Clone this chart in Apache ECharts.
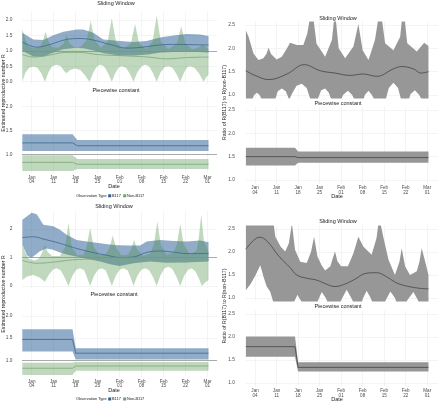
<!DOCTYPE html>
<html><head><meta charset="utf-8">
<script src="https://cdn.jsdelivr.net/npm/echarts@6/dist/echarts.min.js"></script>
<style>html,body{margin:0;padding:0;background:#fff}#c{width:440px;height:403px}</style>
</head><body><div id="c"></div>
<script>
// ---------- axis ticks (day 0 = Jan 01) ----------
const tickDays = [3, 10, 17, 24, 31, 38, 45, 52, 59];
const tickLabels = ['Jan\n04','Jan\n11','Jan\n18','Jan\n25','Feb\n01','Feb\n08','Feb\n15','Feb\n22','Mar\n01'];

// ---------- Top-left: sliding window (B117 / Non-B117) ----------
const tlBlueUp = [[0,1.59],[3.5,1.37],[6.7,1.35],[9.9,1.51],[13.1,1.62],[17.3,1.69],[19.4,1.69],[22.6,1.59],[25.8,1.37],[31.1,1.32],[35.4,1.29],[39.6,1.32],[43.9,1.43],[48.1,1.50],[52.4,1.55],[56.6,1.53],[59.3,1.48]];
const tlBlueLo = [[0,1.00],[3.5,0.82],[6.7,0.82],[10,0.95],[13,1.05],[17.3,1.10],[20,1.08],[23,1.00],[26,0.92],[31,0.85],[35.4,0.85],[40,0.88],[44,0.95],[48,0.96],[52,0.97],[56,0.96],[59.3,0.95]];
const tlBlueMid = [[0,1.29],[4.6,1.12],[8.9,1.21],[14.1,1.37],[18.4,1.40],[22.6,1.35],[27.9,1.21],[33.3,1.09],[37.5,1.11],[42.8,1.18],[48.1,1.21],[54.5,1.20],[59.3,1.19]];
const tlGreenUp = [[0,1.70],[1,1.35],[2,1.15],[3.5,1.08],[5.5,1.12],[6.5,1.30],[7.4,1.62],[8.3,1.30],[9.5,1.12],[11.5,1.10],[13.2,1.25],[14.1,1.53],[15,1.25],[16.5,1.12],[18.5,1.12],[20.5,1.35],[21.8,1.98],[23,1.35],[25,1.10],[27.2,1.30],[28.5,2.06],[29.8,1.30],[32,1.05],[34.6,1.25],[35.9,1.87],[37.2,1.25],[39.5,1.05],[41.5,1.30],[42.8,2.15],[44.1,1.30],[46.5,1.05],[49.3,1.25],[50.6,1.80],[51.9,1.25],[54,1.05],[56,1.10],[57.5,1.20],[59.3,1.05]];
const tlGreenLo = [[0,0.0],[1,0.3],[2.2,0.45],[3.5,0.49],[4.8,0.45],[6,0.28],[7.2,0.0],[8.3,0.3],[9.5,0.5],[10.9,0.55],[12.3,0.5],[13.3,0.35],[14.1,0.27],[15.2,0.38],[16.8,0.43],[18.5,0.38],[20,0.2],[21.4,0.0],[22.6,0.3],[23.8,0.5],[24.8,0.55],[26,0.5],[27.3,0.28],[28.5,0.0],[29.7,0.3],[30.8,0.47],[31.7,0.5],[33,0.45],[34.3,0.25],[35.4,0.0],[36.6,0.3],[38,0.5],[39.1,0.55],[40.3,0.5],[41.6,0.28],[42.8,0.0],[44,0.3],[45.3,0.47],[46.5,0.5],[47.8,0.45],[49.1,0.25],[50.3,0.0],[51.5,0.3],[52.5,0.47],[53.5,0.5],[54.8,0.45],[56.4,0.25],[57.7,0.0],[58.6,0.15],[59.3,0.22]];
const tlGreenMid = [[0,0.88],[3.5,0.80],[8,0.85],[14,0.95],[18,0.95],[24,0.88],[32,0.84],[40,0.80],[46,0.74],[52,0.78],[59.3,0.80]];

// ---------- Top-left: piecewise constant ----------
const tlPwBlueUp = [[0,1.42],[16,1.42],[17.5,1.30],[59.3,1.30]];
const tlPwBlueLo = [[0,1.07],[16,1.07],[17.5,1.07],[59.3,1.07]];
const tlPwBlueMid = [[0,1.24],[16,1.24],[17.5,1.18],[59.3,1.18]];
const tlPwGreenUp = [[0,0.98],[16,0.98],[17.5,0.90],[59.3,0.90]];
const tlPwGreenLo = [[0,0.65],[16,0.65],[17.5,0.69],[59.3,0.69]];
const tlPwGreenMid = [[0,0.83],[16,0.83],[17.5,0.79],[59.3,0.79]];

// ---------- Top-right: ratio, sliding window ----------
const trUp = [[0,2.39],[0.9,2.25],[2.5,1.89],[4.1,1.75],[5.7,1.79],[6.7,1.88],[7.4,2.01],[8.2,1.88],[10,1.76],[11.7,1.82],[13.4,2.00],[14.4,2.12],[16.6,2.07],[18.7,2.07],[20,2.32],[21.5,2.9],[23,2.1],[25.8,1.82],[28,2.18],[29,2.8],[30.2,2.0],[32.3,1.79],[35,2.04],[36.6,2.52],[38,1.96],[39.9,1.75],[42,2.18],[43.7,2.9],[45.3,2.11],[48,1.96],[50.2,2.25],[51.2,2.9],[52.5,2.11],[55.6,1.93],[58,2.12],[59.4,2.05]];
const trLo = [[0,0.75],[1.8,0.85],[2.7,1.0],[3.6,1.05],[4.5,1.0],[5.5,0.85],[7.4,0.6],[9.3,0.85],[10.4,1.08],[11.7,1.14],[13,1.08],[14.1,0.90],[15.2,1.05],[16.5,1.2],[18.2,1.24],[19.8,1.15],[20.9,0.93],[21.5,0.6],[22.5,0.6],[23.5,0.93],[24.5,1.1],[25.8,1.14],[27,1.05],[27.8,0.9],[29,0.6],[30.5,0.8],[31.6,1.0],[33.2,1.09],[34.6,1.0],[35.3,0.9],[36.6,0.6],[38,0.85],[38.7,1.0],[39.9,1.09],[41,1.0],[41.8,0.9],[43.7,0.6],[45.5,0.9],[46.5,1.15],[48,1.26],[49.5,1.15],[50.5,0.9],[51.2,0.6],[52.5,0.8],[53.6,1.02],[55,1.10],[56.4,1.0],[57.2,0.9],[58.5,0.75],[59.4,0.8]];
const trMid = [[0,1.52],[3,1.42],[7.5,1.33],[13.4,1.45],[19,1.65],[24.2,1.52],[29,1.47],[33.9,1.42],[38.2,1.45],[42.6,1.40],[48,1.56],[50.7,1.61],[54.5,1.56],[57,1.47],[59.4,1.50]];

// ---------- Top-right: ratio, piecewise ----------
const trPwUp = [[0,1.69],[16,1.69],[17,1.61],[59.4,1.61]];
const trPwLo = [[0,1.31],[16,1.31],[17,1.37],[59.4,1.37]];
const trPwMid = [[0,1.50],[16,1.50],[17,1.48],[59.4,1.48]];

// ---------- Bottom-left: sliding window ----------
const blBlueUp = [[0,2.33],[3,2.57],[4.6,2.52],[6.7,2.15],[9.9,2.10],[12,1.98],[14.1,1.80],[17.3,1.62],[20.5,1.56],[24.8,1.50],[29,1.44],[33.3,1.42],[37.5,1.42],[39.6,1.56],[43.9,1.62],[48.1,1.58],[52.4,1.56],[56.6,1.60],[59.3,1.54]];
const blBlueLo = [[0,1.45],[1.5,1.08],[2.8,0.98],[4,1.08],[5.6,1.22],[7.5,1.32],[9.5,1.28],[12,1.18],[14.5,1.10],[19.4,0.98],[24.8,0.86],[28,0.76],[31,0.70],[35.4,0.80],[40.7,0.86],[46,0.82],[52,0.83],[59.3,0.86]];
const blBlueMid = [[0,1.70],[3.5,1.73],[6.7,1.65],[12,1.50],[16.3,1.35],[21.6,1.20],[26.9,1.08],[31.1,1.00],[35.4,1.02],[39.6,1.18],[43.9,1.23],[48.1,1.19],[52.4,1.14],[59.3,1.14]];
const blGreenUp = [[0,1.45],[1,1.15],[2.2,0.95],[4,0.90],[5.5,0.98],[6.4,1.2],[7.2,1.45],[8,1.2],[9.5,1.05],[12,1.05],[13.6,1.35],[14.7,2.21],[15.8,1.35],[17.5,1.08],[19.5,1.10],[20.5,1.4],[21.6,2.04],[22.7,1.4],[24.5,1.08],[26.6,1.12],[27.8,1.35],[28.8,1.77],[29.8,1.35],[31.5,1.08],[33.6,1.10],[34.7,1.30],[35.6,1.62],[36.5,1.3],[38.5,1.05],[40.8,1.15],[41.9,1.45],[43,2.27],[44.1,1.45],[46,1.10],[48.1,1.18],[49.2,1.45],[50.3,2.18],[51.4,1.45],[53.5,1.10],[55.5,1.25],[56.2,1.7],[57,2.51],[57.8,1.6],[59.3,1.2]];
const blGreenLo = [[0,0.21],[1.5,0.33],[3.5,0.39],[5.5,0.30],[7.2,0.15],[8.5,0.40],[9.8,0.58],[10.9,0.62],[12.2,0.55],[13.5,0.30],[14.7,0.0],[15.9,0.35],[17.2,0.57],[18.4,0.62],[19.7,0.55],[20.6,0.3],[21.6,0.0],[22.8,0.35],[24.1,0.57],[25.3,0.62],[26.5,0.55],[27.5,0.3],[28.5,0.0],[29.7,0.35],[31,0.57],[32.2,0.62],[33.5,0.55],[34.5,0.3],[35.4,0.0],[36.6,0.35],[37.9,0.57],[39.1,0.62],[40.4,0.55],[41.7,0.3],[42.8,0.0],[44,0.38],[45.3,0.62],[46.5,0.68],[47.8,0.6],[49.2,0.3],[50.3,0.0],[51.5,0.35],[52.8,0.57],[54,0.62],[55.2,0.5],[56.3,0.25],[57.2,0.0],[58.2,0.12],[59.3,0.21]];
const blGreenMid = [[0,0.90],[4.6,0.80],[10,0.84],[16,0.92],[24,0.95],[32,0.94],[40,0.93],[48,0.92],[59.3,0.93]];

// ---------- Bottom-left: piecewise ----------
const blPwBlueUp = [[0,1.70],[16,1.70],[17,1.27],[59.3,1.27]];
const blPwBlueLo = [[0,1.20],[16,1.20],[17,1.02],[59.3,1.02]];
const blPwBlueMid = [[0,1.47],[16,1.47],[17,1.16],[59.3,1.16]];
const blPwGreenUp = [[0,0.945],[16,0.945],[17,0.96],[59.3,0.96]];
const blPwGreenLo = [[0,0.667],[16,0.667],[17,0.765],[59.3,0.765]];
const blPwGreenMid = [[0,0.82],[16,0.82],[17,0.87],[59.3,0.87]];

// ---------- Bottom-right: ratio, sliding window ----------
const brUp = [[0,2.9],[8.5,2.9],[9.6,2.33],[11.3,2.12],[12.8,2.01],[14,2.19],[15,2.62],[16,2.05],[17.7,1.79],[19.8,1.76],[21.2,2.0],[22.2,2.33],[23.3,1.90],[24.6,1.72],[25.8,1.6],[27.5,1.69],[28.2,1.85],[29,2.01],[29.8,1.80],[31,1.69],[33.2,1.69],[35,1.97],[36.6,2.33],[38.2,2.12],[40.9,1.94],[42.5,2.3],[43.4,2.75],[44.7,2.33],[46.4,1.83],[48.5,1.50],[50,1.80],[50.7,2.08],[51.8,1.69],[53.4,1.50],[55.6,1.58],[56.5,1.8],[57.2,2.08],[58.3,1.80],[59.4,1.5]];
const brLo = [[0,1.17],[1.5,1.30],[3.2,1.50],[4.7,1.71],[5.8,1.45],[6.8,1.25],[7.9,1.14],[9,0.9],[11,0.7],[13,0.8],[15,0.6],[15.8,0.93],[16.8,1.07],[17.8,0.95],[19.5,0.8],[22.2,0.6],[23.5,0.95],[24.7,1.13],[26,1.0],[27,0.85],[29,0.6],[31,0.95],[32.8,1.18],[34.5,0.98],[35.3,0.85],[36.6,0.6],[38,0.98],[39.3,1.16],[40.6,1.0],[41.5,0.85],[43.4,0.6],[45.5,0.95],[47,1.14],[48.5,1.0],[49.3,0.85],[50.7,0.6],[52.5,0.95],[54.5,1.13],[56,0.95],[57.2,0.6],[58.5,0.8],[59.4,0.9]];
const brMid = [[0,2.06],[2.5,2.25],[4.5,2.32],[7,2.23],[10.6,1.92],[14.4,1.66],[16.6,1.50],[19.8,1.43],[23,1.39],[26.3,1.30],[29,1.25],[31.7,1.29],[35,1.39],[39.3,1.54],[42.6,1.55],[45.8,1.46],[49,1.33],[52.3,1.26],[56.7,1.21],[59.4,1.20]];

// ---------- Bottom-right: ratio, piecewise ----------
const brPwUp = [[0,2.01],[16,2.01],[17,1.45],[59.4,1.45]];
const brPwLo = [[0,1.57],[16,1.57],[17,1.25],[59.4,1.25]];
const brPwMid = [[0,1.79],[16,1.79],[17,1.34],[59.4,1.34]];

// ---------- styles ----------
const FONT = '"Liberation Sans", Arial, sans-serif';
const BLUE_FILL = 'rgba(35,90,145,0.5)';
const GREEN_FILL = 'rgba(70,140,65,0.34)';
const GRAY_FILL = '#979797';
const BLUE_LINE = '#3a6990';
const GREEN_LINE = '#7aa676';
const GRAY_LINE = '#444444';

const panels = [
  {left:22, width:195, top:12,    height:72, ymin:-0.075, ymax:2.26,  yt:[0,0.5,1,1.5,2], dec:1, xmax:62,   xl:false},
  {left:22, width:195, top:97,    height:76, ymin:0.607,  ymax:2.204, yt:[1,1.5,2],       dec:1, xmax:62,   xl:true},
  {left:245.5, width:192.5, top:21.5,  height:77, ymin:0.925, ymax:2.575, yt:[1,1.5,2,2.5], dec:1, xmax:62.5, xl:false},
  {left:245.5, width:192.5, top:106.5, height:77, ymin:0.925, ymax:2.575, yt:[1,1.5,2,2.5], dec:1, xmax:62.5, xl:true},
  {left:22, width:195, top:211,   height:77, ymin:-0.07,  ymax:2.635, yt:[0,1,2],         dec:0, xmax:62,   xl:false},
  {left:22, width:195, top:300,   height:77, ymin:0.622,  ymax:2.362, yt:[1,1.5,2],       dec:1, xmax:62,   xl:true},
  {left:245.5, width:192.5, top:225.5, height:76, ymin:0.925, ymax:2.575, yt:[1,1.5,2,2.5], dec:1, xmax:62.5, xl:false},
  {left:245.5, width:192.5, top:310.5, height:76, ymin:0.925, ymax:2.575, yt:[1,1.5,2,2.5], dec:1, xmax:62.5, xl:true}
];

const grid = [], xAxis = [], yAxis = [];
panels.forEach((p, i) => {
  grid.push({left:p.left, top:p.top, width:p.width, height:p.height, containLabel:false});
  xAxis.push({
    type:'value', gridIndex:i, min:-0.1, max:p.xmax,
    axisLine:{show:false}, axisTick:{show:false, customValues:tickDays},
    splitLine:{show:true, lineStyle:{color:'#ececec', width:0.6}},
    axisLabel:{show:p.xl, customValues:tickDays, margin:2.5, fontSize:4.6, lineHeight:4.4,
      color:'#4d4d4d', fontFamily:FONT, align:'center',
      formatter:(v) => { const k = tickDays.indexOf(Math.round(v)); return k >= 0 ? tickLabels[k] : ''; }}
  });
  yAxis.push({
    type:'value', gridIndex:i, min:p.ymin, max:p.ymax,
    axisLine:{show:false}, axisTick:{show:false, customValues:p.yt},
    splitLine:{show:true, lineStyle:{color:'#ececec', width:0.6}},
    axisLabel:{customValues:p.yt, margin:p.left > 200 ? 10.5 : 9.5, fontSize:4.8, color:'#4d4d4d', fontFamily:FONT,
      formatter:(v) => Number(v).toFixed(p.dec)}
  });
});

function band(gi, up, lo, fill, z) {
  return {
    type:'custom', xAxisIndex:gi, yAxisIndex:gi, data:[[30, 1.5]], silent:true, z:z,
    renderItem:(params, api) => {
      const pts = up.map(q => api.coord(q)).concat(lo.slice().reverse().map(q => api.coord(q)));
      const cs = params.coordSys;
      return {type:'polygon', shape:{points:pts}, style:{fill:fill, stroke:null},
        clipPath:{type:'rect', shape:{x:cs.x, y:cs.y, width:cs.width, height:cs.height}}};
    }
  };
}
function line(gi, data, color, smooth, z, refLine) {
  const s = {type:'line', xAxisIndex:gi, yAxisIndex:gi, data:data, smooth:smooth ? 0.4 : false,
    showSymbol:false, symbol:'none', silent:true, z:z, lineStyle:{color:color, width:0.8}};
  if (refLine) {
    s.markLine = {silent:true, symbol:'none', label:{show:false}, animation:false,
      lineStyle:{color:'#8a8a8a', width:0.7, type:'solid'}, data:[{yAxis:1}]};
  }
  return s;
}

const series = [
  band(0, tlBlueUp, tlBlueLo, BLUE_FILL, 1), band(0, tlGreenUp, tlGreenLo, GREEN_FILL, 2),
  line(0, tlBlueMid, BLUE_LINE, true, 3), line(0, tlGreenMid, GREEN_LINE, true, 3, true),
  band(1, tlPwBlueUp, tlPwBlueLo, BLUE_FILL, 1), band(1, tlPwGreenUp, tlPwGreenLo, GREEN_FILL, 2),
  line(1, tlPwBlueMid, BLUE_LINE, false, 3), line(1, tlPwGreenMid, GREEN_LINE, false, 3, true),
  band(2, trUp, trLo, GRAY_FILL, 1), line(2, trMid, GRAY_LINE, true, 3),
  band(3, trPwUp, trPwLo, GRAY_FILL, 1), line(3, trPwMid, GRAY_LINE, false, 3),
  band(4, blBlueUp, blBlueLo, BLUE_FILL, 1), band(4, blGreenUp, blGreenLo, GREEN_FILL, 2),
  line(4, blBlueMid, BLUE_LINE, true, 3), line(4, blGreenMid, GREEN_LINE, true, 3, true),
  band(5, blPwBlueUp, blPwBlueLo, BLUE_FILL, 1), band(5, blPwGreenUp, blPwGreenLo, GREEN_FILL, 2),
  line(5, blPwBlueMid, BLUE_LINE, false, 3), line(5, blPwGreenMid, GREEN_LINE, false, 3, true),
  band(6, brUp, brLo, GRAY_FILL, 1), line(6, brMid, GRAY_LINE, true, 3),
  band(7, brPwUp, brPwLo, GRAY_FILL, 1), line(7, brPwMid, GRAY_LINE, false, 3)
];

function txt(x, y, s, size, opts) {
  opts = opts || {};
  return {type:'text', x:x, y:y, rotation:opts.rot || 0, silent:true,
    style:{text:s, fontSize:size, fontFamily:FONT, fill:opts.color || '#222',
      textAlign:opts.align || 'center', textVerticalAlign:'middle'}};
}
function legend(y) {
  return [
    txt(106.6, y, 'Observation Type', 3.9, {align:'right'}),
    {type:'rect', silent:true, shape:{x:108.2, y:y-1.5, width:3, height:3}, style:{fill:'#2f5f8c'}},
    txt(112, y, 'B117', 3.9, {align:'left'}),
    {type:'rect', silent:true, shape:{x:123.2, y:y-1.5, width:3, height:3}, style:{fill:'#6fa06b'}},
    txt(127, y, 'Non-B117', 3.9, {align:'left'})
  ];
}

const graphic = [
  txt(116, 3.6, 'Sliding Window', 5.5), txt(116, 90.2, 'Piecewise constant', 5.5),
  txt(338, 18, 'Sliding Window', 5.5), txt(338, 103.3, 'Piecewise constant', 5.5),
  txt(114, 206, 'Sliding Window', 5.5), txt(114, 294.3, 'Piecewise constant', 5.5),
  txt(338, 221.7, 'Sliding Window', 5.5), txt(338, 306.7, 'Piecewise constant', 5.5),
  txt(114, 186, 'Date', 5.5), txt(337, 196.7, 'Date', 5.5),
  txt(114, 390, 'Date', 5.5), txt(337, 399.3, 'Date', 5.5),
  txt(3.6, 93, 'Estimated reproductive number R', 5.2, {rot:Math.PI/2}),
  txt(3.6, 294, 'Estimated reproductive number R', 5.2, {rot:Math.PI/2}),
  txt(224.6, 102.5, 'Ratio of R(B117) to R(non-B117)', 5.2, {rot:Math.PI/2}),
  txt(224.6, 306, 'Ratio of R(B117) to R(non-B117)', 5.2, {rot:Math.PI/2})
].concat(legend(195.8), legend(399));

const chart = echarts.init(document.getElementById('c'), null, {renderer:'canvas'});
chart.setOption({animation:false, backgroundColor:'#fff', grid, xAxis, yAxis, series, graphic});
</script></body></html>
